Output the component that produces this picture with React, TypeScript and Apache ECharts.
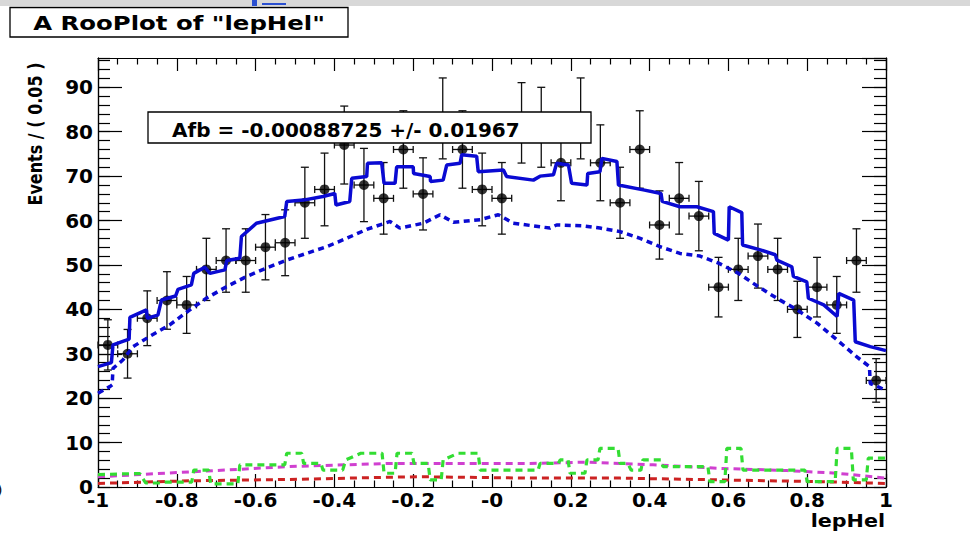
import React, { useEffect, useRef } from "react";
import * as echarts from "echarts";

// ---- data ----
const binWidth = 0.05;
const counts = [
  32, 30, 38, 42, 41, 49, 51, 51, 54, 55, 64, 67, 77, 68, 65, 76, 66, 83, 76, 67,
  65, 82, 81, 73, 83, 73, 64, 76, 59, 65, 61, 45, 49, 52, 49, 40, 45, 41, 51, 24,
];
const binCenters = counts.map((_, i) => -1 + binWidth * (i + 0.5));

const totalPdf: [number, number][] = [
  [-1.0, 27.1], [-0.966, 28.0], [-0.962, 32.0], [-0.921, 33.3], [-0.919, 38.2], [-0.877, 39.9],
  [-0.875, 38.0], [-0.848, 38.7], [-0.839, 42.1], [-0.803, 43.0], [-0.797, 44.5], [-0.763, 45.5],
  [-0.757, 48.1], [-0.729, 49.5], [-0.716, 48.1], [-0.678, 48.9], [-0.673, 51.0], [-0.64, 51.5],
  [-0.636, 56.4], [-0.598, 59.4], [-0.526, 60.9], [-0.521, 64.3], [-0.479, 64.6], [-0.429, 65.4],
  [-0.399, 66.1], [-0.396, 63.5], [-0.361, 64.3], [-0.356, 69.5], [-0.318, 69.9], [-0.316, 72.9],
  [-0.28, 73.0], [-0.274, 68.4], [-0.246, 68.4], [-0.242, 72.1], [-0.2, 72.1], [-0.199, 70.6],
  [-0.157, 69.9], [-0.156, 68.8], [-0.124, 69.1], [-0.115, 72.5], [-0.081, 72.9], [-0.077, 74.8],
  [-0.039, 74.5], [-0.035, 71.0], [0.029, 71.4], [0.037, 69.9], [0.105, 69.1], [0.122, 70.0],
  [0.156, 70.3], [0.164, 72.9], [0.194, 72.5], [0.202, 68.4], [0.241, 68.0], [0.243, 70.6],
  [0.274, 71.0], [0.279, 74.0], [0.317, 73.3], [0.321, 68.0], [0.384, 66.9], [0.429, 66.1],
  [0.432, 64.3], [0.477, 63.1], [0.52, 63.1], [0.562, 62.0], [0.564, 57.1], [0.6, 55.6],
  [0.602, 63.1], [0.634, 61.8], [0.636, 54.5], [0.681, 53.4], [0.719, 52.3], [0.723, 51.1],
  [0.761, 49.6], [0.765, 47.4], [0.799, 46.2], [0.803, 42.5], [0.842, 41.0], [0.876, 38.4],
  [0.88, 43.6], [0.918, 42.1], [0.922, 32.7], [0.96, 31.6], [1.0, 30.7],
];

const sigPdf: [number, number][] = [
  [-1.0, 21.1], [-0.97, 22.6], [-0.964, 23.0], [-0.962, 26.7], [-0.937, 28.6], [-0.911, 31.6],
  [-0.869, 33.9], [-0.818, 36.5], [-0.767, 39.9], [-0.725, 42.5], [-0.674, 45.1], [-0.623, 47.4],
  [-0.572, 49.3], [-0.521, 51.1], [-0.471, 52.6], [-0.42, 54.1], [-0.369, 56.0], [-0.318, 58.0],
  [-0.259, 59.8], [-0.234, 58.3], [-0.174, 59.4], [-0.132, 61.3], [-0.098, 59.6], [-0.03, 60.2],
  [0.016, 61.3], [0.054, 59.4], [0.147, 58.3], [0.164, 59.0], [0.232, 58.8], [0.274, 58.3],
  [0.325, 57.5], [0.376, 56.0], [0.427, 54.1], [0.477, 52.6], [0.528, 52.0], [0.575, 50.4],
  [0.626, 48.1], [0.676, 45.1], [0.723, 42.5], [0.774, 39.9], [0.825, 36.9], [0.876, 33.1],
  [0.926, 29.3], [0.958, 27.1], [0.96, 23.3], [1.0, 21.8],
];

const greenBkg: [number, number][] = [
  [-1.0, 2.8], [-0.912, 3.0], [-0.894, 3.0], [-0.879, 0.9], [-0.838, 0.9], [-0.831, 1.1],
  [-0.762, 1.1], [-0.757, 3.8], [-0.719, 3.8], [-0.714, 0.7], [-0.645, 0.7], [-0.64, 5.0],
  [-0.526, 5.0], [-0.521, 7.6], [-0.483, 7.6], [-0.478, 5.3], [-0.434, 5.3], [-0.429, 3.8],
  [-0.379, 3.8], [-0.371, 6.1], [-0.333, 7.6], [-0.279, 7.6], [-0.274, 3.1], [-0.246, 3.1],
  [-0.241, 7.6], [-0.203, 7.6], [-0.198, 5.3], [-0.162, 5.3], [-0.157, 1.6], [-0.129, 1.6],
  [-0.124, 6.1], [-0.086, 7.6], [-0.035, 7.6], [-0.03, 3.8], [0.117, 3.8], [0.122, 5.3],
  [0.168, 5.3], [0.173, 6.1], [0.193, 6.1], [0.198, 3.1], [0.236, 3.1], [0.241, 6.1],
  [0.269, 6.1], [0.274, 8.7], [0.32, 8.7], [0.325, 5.3], [0.345, 5.3], [0.353, 3.8],
  [0.378, 3.8], [0.383, 6.1], [0.429, 6.1], [0.434, 4.6], [0.548, 4.6], [0.553, 1.2],
  [0.591, 1.2], [0.596, 8.7], [0.632, 8.7], [0.637, 3.8], [0.794, 3.8], [0.8, 1.2],
  [0.871, 1.2], [0.876, 8.7], [0.912, 8.7], [0.917, 1.6], [0.95, 1.6], [0.955, 6.5], [1.0, 6.5],
];

const magentaBkg: [number, number][] = [
  [-1.0, 2.3], [-0.767, 3.4], [-0.513, 4.6], [-0.259, 5.3], [0.097, 5.3], [0.241, 5.6],
  [0.409, 5.0], [0.579, 4.2], [0.749, 3.7], [0.876, 3.1], [1.0, 2.0],
];

const redBkg: [number, number][] = [
  [-1.0, 0.8], [-0.767, 1.4], [-0.513, 1.7], [-0.259, 2.2], [-0.175, 2.3], [0.097, 2.0],
  [0.325, 2.0], [0.579, 1.6], [0.833, 1.2], [1.0, 0.8],
];

const xTicks = { min: -1, max: 1, major: 0.2 };
const yTicks = { min: 0, max: 96.6, major: 10, minor: 2 };

const titleText = 'A RooPlot of "lepHel"';
const fitText = "Afb = -0.00088725 +/- 0.01967";
const yTitle = "Events / ( 0.05 )";
const xTitle = "lepHel";

const FONT = "DejaVu Sans";

export default function App() {
  const ref = useRef<HTMLDivElement>(null);

  useEffect(() => {
    if (!ref.current) return;
    const chart = echarts.init(ref.current, undefined, { renderer: "svg" });

    const axisLineStyle = { color: "#000", width: 1.2 };
    const baseX = (pos: "top" | "bottom", labels: boolean) => ({
      type: "value",
      position: pos,
      min: xTicks.min,
      max: xTicks.max,
      interval: xTicks.major,
      axisLine: { show: true, onZero: false, lineStyle: axisLineStyle },
      axisTick: { show: true, inside: true, length: 13, lineStyle: { color: "#000", width: 1.2 } },
      minorTick: { show: true, splitNumber: 4, length: 6.5, lineStyle: { color: "#000", width: 1.2 } },
      splitLine: { show: false },
      minorSplitLine: { show: false },
      axisLabel: labels
        ? {
            show: true,
            margin: 3,
            fontFamily: FONT,
            fontWeight: "bold",
            fontSize: 20,
            color: "#000",
            formatter: (v: number) => {
              const r = Math.round(v * 10) / 10;
              return r === 0 ? "-0" : String(r);
            },
          }
        : { show: false },
    });
    const baseY = (pos: "left" | "right", interval: number, len: number, labels: boolean) => ({
      type: "value",
      position: pos,
      min: yTicks.min,
      max: yTicks.max,
      interval,
      axisLine: { show: true, onZero: false, lineStyle: axisLineStyle },
      axisTick: { show: true, inside: true, length: len, lineStyle: { color: "#000", width: 1.2 } },
      splitLine: { show: false },
      axisLabel: labels
        ? {
            show: true,
            margin: 5,
            fontFamily: FONT,
            fontWeight: "bold",
            fontSize: 20,
            color: "#000",
            showMaxLabel: false,
            formatter: (v: number) => (Math.abs(v % 10) < 1e-6 ? String(v) : ""),
          }
        : { show: false },
    });

    const option: any = {
      animation: false,
      backgroundColor: "#fff",
      grid: { left: 98, right: 84, top: 58, bottom: 46, containLabel: false },
      xAxis: [baseX("bottom", true), baseX("top", false)],
      yAxis: [
        baseY("left", yTicks.major, 24, true),
        baseY("left", yTicks.minor, 12, false),
        baseY("right", yTicks.major, 24, false),
        baseY("right", yTicks.minor, 12, false),
      ],
      series: [
        {
          type: "custom",
          name: "errors",
          xAxisIndex: 0,
          yAxisIndex: 0,
          z: 2,
          silent: true,
          data: binCenters.map((x, i) => [x, counts[i]]),
          renderItem: (params: any, api: any) => {
            const x = api.value(0);
            const y = api.value(1);
            const e = Math.sqrt(y);
            const c = api.coord([x, y]);
            const l = api.coord([x - binWidth / 2, y]);
            const r = api.coord([x + binWidth / 2, y]);
            const t = api.coord([x, y + e]);
            const b = api.coord([x, y - e]);
            const st = { stroke: "#111", lineWidth: 1.3 };
            const ln = (x1: number, y1: number, x2: number, y2: number) => ({
              type: "line",
              shape: { x1, y1, x2, y2 },
              style: st,
            });
            return {
              type: "group",
              children: [
                ln(c[0], t[1], c[0], b[1]),
                ln(c[0] - 4, t[1], c[0] + 4, t[1]),
                ln(c[0] - 4, b[1], c[0] + 4, b[1]),
                ln(l[0], c[1], r[0], c[1]),
                ln(l[0], c[1] - 3.5, l[0], c[1] + 3.5),
                ln(r[0], c[1] - 3.5, r[0], c[1] + 3.5),
              ],
            };
          },
        },
        {
          type: "scatter",
          name: "data",
          xAxisIndex: 0,
          yAxisIndex: 0,
          z: 3,
          silent: true,
          symbol: "circle",
          symbolSize: 10,
          itemStyle: { color: "#000" },
          data: binCenters.map((x, i) => [x, counts[i]]),
        },
        {
          type: "line",
          name: "red",
          z: 4,
          silent: true,
          symbol: "none",
          data: redBkg,
          lineStyle: { color: "#cc2222", width: 3, type: [7, 5], cap: "butt" },
        },
        {
          type: "line",
          name: "magenta",
          z: 4,
          silent: true,
          symbol: "none",
          data: magentaBkg,
          lineStyle: { color: "#d040d0", width: 3, type: [7, 5], cap: "butt" },
        },
        {
          type: "line",
          name: "green",
          z: 4,
          silent: true,
          symbol: "none",
          data: greenBkg,
          lineStyle: { color: "#33dd33", width: 3.2, type: [7, 5], cap: "butt" },
        },
        {
          type: "line",
          name: "signal",
          z: 5,
          silent: true,
          symbol: "none",
          data: sigPdf,
          lineStyle: { color: "#0a0ad2", width: 3.5, type: [6, 4.5], cap: "butt" },
        },
        {
          type: "line",
          name: "total",
          z: 6,
          silent: true,
          symbol: "none",
          data: totalPdf,
          lineStyle: { color: "#0a0ad2", width: 3.5 },
        },
      ],
      graphic: [
        { type: "rect", z: 100, shape: { x: 0, y: 0, width: 970, height: 6 }, style: { fill: "#d8d8d8" } },
        { type: "rect", z: 101, shape: { x: 252, y: 0, width: 5, height: 6 }, style: { fill: "#2a4fd0" } },
        { type: "rect", z: 101, shape: { x: 262, y: 3, width: 24, height: 2 }, style: { fill: "#2a4fd0" } },
        {
          type: "rect",
          z: 100,
          shape: { x: 10, y: 7.5, width: 338, height: 29.5 },
          style: { fill: "#fff", stroke: "#000", lineWidth: 1.3 },
        },
        {
          type: "text",
          z: 101,
          x: 179,
          y: 23,
          scaleX: 1.22,
          style: {
            text: titleText,
            fontFamily: FONT,
            fontWeight: "bold",
            fontSize: 20,
            fill: "#000",
            align: "center",
            verticalAlign: "middle",
          },
        },
        {
          type: "rect",
          z: 100,
          shape: { x: 148, y: 112, width: 443, height: 31 },
          style: { fill: "#fff", stroke: "#000", lineWidth: 1.3 },
        },
        {
          type: "text",
          z: 101,
          x: 172,
          y: 130,
          style: {
            text: fitText,
            fontFamily: FONT,
            fontWeight: "bold",
            fontSize: 20,
            fill: "#000",
            align: "left",
            verticalAlign: "middle",
          },
        },
        {
          type: "text",
          z: 101,
          x: 35,
          y: 134,
          rotation: Math.PI / 2,
          scaleY: 1.25,
          style: {
            text: yTitle,
            fontFamily: FONT,
            fontWeight: "bold",
            fontSize: 16,
            fill: "#000",
            align: "center",
            verticalAlign: "middle",
          },
        },
        {
          type: "text",
          z: 101,
          x: 885,
          y: 521,
          scaleX: 1.15,
          style: {
            text: xTitle,
            fontFamily: FONT,
            fontWeight: "bold",
            fontSize: 18,
            fill: "#000",
            align: "right",
            verticalAlign: "middle",
          },
        },
        {
          type: "text",
          z: 101,
          x: -3,
          y: 490,
          style: { text: ")", fontFamily: FONT, fontSize: 14, fill: "#000", align: "left", verticalAlign: "middle" },
        },
      ],
    };

    chart.setOption(option);
    return () => chart.dispose();
  }, []);

  return (
    <div
      ref={ref}
      style={{ position: "fixed", left: 0, top: 0, width: 970, height: 533, background: "#fff" }}
    />
  );
}
